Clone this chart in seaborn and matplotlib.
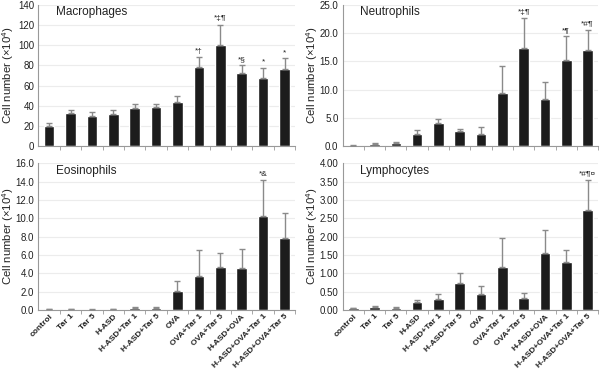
import numpy as np
import pandas as pd
import matplotlib
matplotlib.use("Agg")
import matplotlib.pyplot as plt
import seaborn as sns

groups = ["control", "Tar 1", "Tar 5", "H-ASD", "H-ASD+Tar 1", "H-ASD+Tar 5", "OVA",
          "OVA+Tar 1", "OVA+Tar 5", "H-ASD+OVA", "H-ASD+OVA+Tar 1", "H-ASD+OVA+Tar 5"]

# mean values and top of error bar (mean + SD)
mac_mean = [20, 33, 30, 32, 38, 38.5, 43.5, 78, 100, 72, 68, 76]
mac_top = [23, 36, 33.5, 36, 42, 42, 50, 88, 120.5, 80, 77.5, 87]
mac_sig = ["", "", "", "", "", "", "", "*†", "*‡¶", "*§", "*", "*"]

neu_mean = [0.1, 0.4, 0.6, 2.2, 4.1, 2.6, 2.2, 9.4, 17.3, 8.4, 15.3, 17.0]
neu_top = [0.15, 0.5, 0.8, 2.9, 4.8, 3.1, 3.4, 14.1, 22.7, 11.4, 19.5, 20.6]
neu_sig = ["", "", "", "", "", "", "", "", "*‡¶", "", "*¶", "*#¶"]

eos_mean = [0.08, 0.05, 0.03, 0.07, 0.22, 0.18, 2.1, 3.7, 4.65, 4.55, 10.3, 7.85]
eos_top = [0.12, 0.08, 0.05, 0.12, 0.35, 0.35, 3.2, 6.55, 6.2, 6.7, 14.2, 10.55]
eos_sig = ["", "", "", "", "", "", "", "", "", "", "*&", ""]

lym_mean = [0.05, 0.07, 0.05, 0.22, 0.31, 0.74, 0.43, 1.17, 0.33, 1.54, 1.30, 2.72]
lym_top = [0.06, 0.10, 0.07, 0.28, 0.43, 1.00, 0.65, 1.95, 0.47, 2.17, 1.63, 3.55]
lym_sig = ["", "", "", "", "", "", "", "", "", "", "", "*#¶¤"]

sns.set_style("white")
plt.rcParams['font.family'] = ['Liberation Sans', 'DejaVu Sans']
plt.rcParams['mathtext.fontset'] = 'custom'
plt.rcParams['mathtext.rm'] = 'Liberation Sans'
fig = plt.figure(figsize=(6, 3.72), dpi=100)

panels = [
    ("Macrophages", mac_mean, mac_top, mac_sig, [0.064, 0.607, 0.428, 0.380], 140, 20, "%d", -0.086),
    ("Neutrophils", neu_mean, neu_top, neu_sig, [0.571, 0.607, 0.426, 0.380], 25, 5, "%.1f", -0.088),
    ("Eosinophils", eos_mean, eos_top, eos_sig, [0.064, 0.167, 0.428, 0.394], 16, 2, "%.1f", -0.086),
    ("Lymphocytes", lym_mean, lym_top, lym_sig, [0.571, 0.167, 0.426, 0.394], 4, 0.5, "%.2f", -0.088),
]

for i, (name, mean, top, sig, pos, ymax, step, fmt, lab_x) in enumerate(panels):
    ax = fig.add_axes(pos)
    df = pd.DataFrame({"group": groups, "value": mean})
    sns.barplot(data=df, x="group", y="value", color="#1c1c1c", width=0.5,
                saturation=1, errorbar=None, ax=ax, zorder=2)
    x = np.arange(len(groups))
    err = np.array(top) - np.array(mean)
    ax.errorbar(x, mean, yerr=[np.zeros(len(x)), err], fmt="none",
                ecolor="#8a8a8a", elinewidth=1, capsize=2, capthick=1, zorder=3)
    for xi, t, s in zip(x, top, sig):
        if s:
            ax.text(xi, t + ymax * 0.015, s, ha="center", va="bottom",
                    fontsize=6, color="#222222")
    ax.set_xlim(-0.5, len(groups) - 0.5)
    ax.set_ylim(0, ymax)
    ticks = np.arange(0, ymax + step / 2, step)
    ax.set_yticks(ticks)
    ax.set_yticklabels([fmt % t for t in ticks], fontsize=7, color="#222222")
    ax.yaxis.grid(True, color="#ececec", linewidth=0.8, zorder=0)
    ax.set_axisbelow(True)
    ax.set_xlabel("")
    ax.set_ylabel("Cell number (×10$^{4}$)", fontsize=8.2, color="#222222")
    ax.yaxis.set_label_coords(lab_x, 0.5)
    ax.set_xticks(x + 0.5, minor=True)
    ax.tick_params(axis="x", which="minor", length=3, color="#999999", direction="out", bottom=True)
    ax.tick_params(axis="x", which="major", length=0, pad=2)
    ax.tick_params(axis="y", length=0, pad=3)
    if i >= 2:
        ax.set_xticks(x)
        ax.set_xticklabels(groups, rotation=45, ha="right", rotation_mode="anchor",
                           fontsize=6, fontweight="bold", color="#222222")
    else:
        ax.set_xticklabels([])
    for sp in ["top", "right"]:
        ax.spines[sp].set_visible(False)
    for sp in ["left", "bottom"]:
        ax.spines[sp].set_color("#999999")
        ax.spines[sp].set_linewidth(0.8)
    ax.text(0.07, 0.95, name, transform=ax.transAxes, ha="left", va="center",
            fontsize=8.5, color="#222222")

fig.savefig("out.png", dpi=100)
